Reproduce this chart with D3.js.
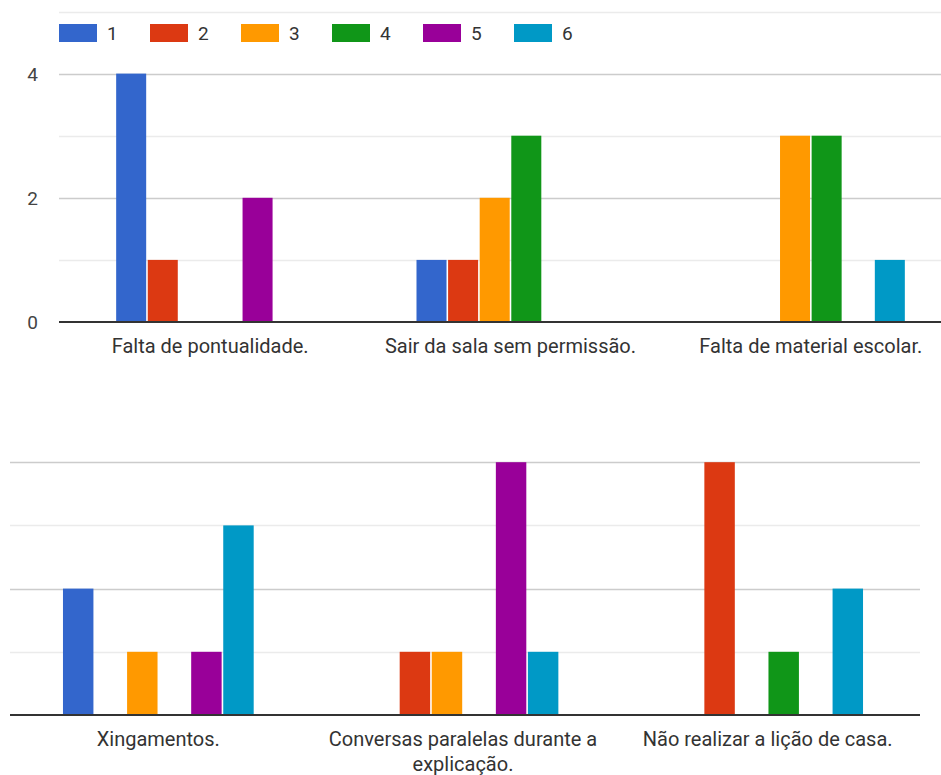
<!DOCTYPE html>
<html>
<head>
<meta charset="utf-8">
<script src="https://cdn.jsdelivr.net/npm/d3@7"></script>
<style>
  body { margin: 0; background: #fff; }
  svg { display: block; font-family: Roboto, Arial, sans-serif; }
</style>
</head>
<body>
<script>
// answer options shown in the legend
var series = ["1", "2", "3", "4", "5", "6"];
var colors = ["#3366cc", "#dc3912", "#ff9900", "#109618", "#990099", "#0099c6"];

// upper chart
var topCategories = ["Falta de pontualidade.", "Sair da sala sem permissão.", "Falta de material escolar."];
var topValues = [
  [4, 1, 0, 0, 2, 0],
  [1, 1, 2, 3, 0, 0],
  [0, 0, 3, 3, 0, 1]
];
var topTicks = [0, 2, 4];

// lower chart
var bottomCategories = ["Xingamentos.", "Conversas paralelas durante a explicação.", "Não realizar a lição de casa."];
var bottomValues = [
  [2, 0, 1, 0, 1, 3],
  [0, 1, 1, 0, 4, 1],
  [0, 4, 0, 1, 0, 2]
];

var W = 941, H = 775;
var svg = d3.select("body").append("svg")
    .attr("width", W)
    .attr("height", H);

// legend
var legend = svg.append("g").attr("class", "legend");
series.forEach(function(s, i) {
  var g = legend.append("g").attr("transform", "translate(" + (59 + i * 91) + ",24)");
  g.append("rect")
      .attr("width", 38)
      .attr("height", 18)
      .attr("fill", colors[i]);
  g.append("text")
      .attr("x", 48)
      .attr("y", 16)
      .attr("font-size", 19)
      .attr("fill", "#333")
      .text(s);
});

function panel(opts) {
  var x0 = d3.scaleBand().domain(opts.categories).range(opts.xRange);
  var bw = x0.bandwidth();
  var x1 = d3.scaleBand().domain(series)
      .range([bw * 0.187, bw * 0.813])
      .paddingInner(0.05);
  var y = d3.scaleLinear().domain([0, opts.max]).range([opts.base, opts.base - opts.unit * opts.max]);

  var g = svg.append("g");

  // gridlines, labelled ones darker
  g.selectAll("line.grid")
    .data(d3.range(1, opts.max + 1))
    .enter().append("line")
      .attr("class", "grid")
      .attr("x1", opts.grid[0])
      .attr("x2", opts.grid[1])
      .attr("y1", function(d) { return Math.round(y(d)) + 0.5; })
      .attr("y2", function(d) { return Math.round(y(d)) + 0.5; })
      .attr("stroke", function(d) { return d % 2 === 0 ? "#cccccc" : "#ebebeb"; })
      .attr("stroke-width", 1.5);

  if (opts.ticks) {
    g.selectAll("text.tick")
      .data(opts.ticks)
      .enter().append("text")
        .attr("class", "tick")
        .attr("x", 38)
        .attr("y", function(d) { return y(d) + 7; })
        .attr("text-anchor", "end")
        .attr("font-size", 19)
        .attr("fill", "#444")
        .text(function(d) { return d; });
  }

  var groups = g.selectAll("g.cat")
    .data(opts.values)
    .enter().append("g")
      .attr("class", "cat")
      .attr("transform", function(d, i) { return "translate(" + x0(opts.categories[i]) + ",0)"; });

  groups.selectAll("rect")
    .data(function(d) { return d.map(function(v, j) { return {s: series[j], v: v, c: colors[j]}; }); })
    .enter().filter(function(d) { return d.v > 0; }).append("rect")
      .attr("x", function(d) { return x1(d.s); })
      .attr("y", function(d) { return y(d.v); })
      .attr("width", x1.bandwidth())
      .attr("height", function(d) { return y(0) - y(d.v); })
      .attr("fill", function(d) { return d.c; });

  // baseline
  g.append("line")
      .attr("x1", opts.grid[0])
      .attr("x2", opts.grid[1])
      .attr("y1", y(0))
      .attr("y2", y(0))
      .attr("stroke", "#333")
      .attr("stroke-width", 2);

  // category labels, wrapped to the band width
  opts.categories.forEach(function(c, i) {
    var t = g.append("text")
        .attr("x", x0(c) + bw / 2)
        .attr("y", opts.base + 31)
        .attr("text-anchor", "middle")
        .attr("font-size", 20)
        .attr("fill", "#333");
    var words = c.split(" "), line = [];
    var tspan = t.append("tspan").attr("x", x0(c) + bw / 2).attr("dy", 0);
    words.forEach(function(w) {
      line.push(w);
      tspan.text(line.join(" "));
      if (tspan.node().getComputedTextLength() > bw - 20 && line.length > 1) {
        line.pop();
        tspan.text(line.join(" "));
        line = [w];
        tspan = t.append("tspan").attr("x", x0(c) + bw / 2).attr("dy", 25).text(w);
      }
    });
  });
}

panel({
  categories: topCategories,
  values: topValues,
  ticks: topTicks,
  max: 5,
  base: 322,
  unit: 62.1,
  xRange: [60, 961],
  grid: [59, 941]
});

panel({
  categories: bottomCategories,
  values: bottomValues,
  ticks: null,
  max: 4,
  base: 715,
  unit: 63.2,
  xRange: [6, 920],
  grid: [10, 920]
});
</script>
</body>
</html>
